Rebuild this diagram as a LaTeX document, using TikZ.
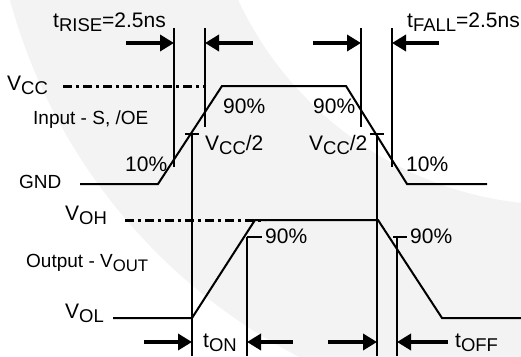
\documentclass[tikz,border=0pt]{standalone}
\usepackage{fontspec}
\setmainfont{Liberation Sans}
\usetikzlibrary{arrows.meta}
\definecolor{bggray}{RGB}{243,243,243}
\tikzstyle{sig}=[draw,line width=2pt]
\tikzstyle{rail}=[draw,line width=3pt,dash pattern=on 9pt off 4pt on 3pt off 4pt]
\tikzstyle{tick}=[draw,line width=2pt]
\tikzstyle{push}=[draw,line width=4.5pt,-{Triangle[length=14pt,width=16pt]}]
\tikzstyle{lbl}=[inner sep=0pt,anchor=base west,font=\fontsize{19}{21}\selectfont]
\tikzstyle{big}=[lbl,font=\fontsize{21}{24}\selectfont]
\newcommand{\lo}[1]{\raisebox{-.22em}{\scalebox{.88}{#1}}}

\begin{document}
\begin{tikzpicture}[x=1pt,y=-1pt]
\useasboundingbox (0,0) rectangle (521,356);
\begin{scope}
\clip (0,0) rectangle (521,356);
\fill[bggray,even odd rule] (560,-150) circle[radius=570pt] (560,-150) circle[radius=355pt];
\end{scope}
% input waveform
\path (80,184) coordinate (i0)
    ++ (78,0) coordinate (i1)
    ++ (64,-98) coordinate (i2)
    ++ (124,0) coordinate (i3)
    ++ (61,98) coordinate (i4)
    ++ (80,0) coordinate (i5);
\draw[sig] (i0) -- (i1) -- (i2) -- (i3) -- (i4) -- (i5);
\path (63,86) coordinate (c0) ++ (142,0) coordinate (c1);
\draw[rail] (c0) -- (c1);
% output waveform
\path (113,318) coordinate (o0)
    ++ (79,0) coordinate (o1)
    ++ (63,-98) coordinate (o2)
    ++ (123,0) coordinate (o3)
    ++ (64,98) coordinate (o4)
    ++ (79,0) coordinate (o5);
\draw[sig] (o0) -- (o1) -- (o2) -- (o3) -- (o4) -- (o5);
\path (125,220) coordinate (h0) ++ (140,0) coordinate (h1);
\draw[rail] (h0) -- (h1);
% rise and fall markers
\path (174,28) coordinate (r1t) ++ (0,15) coordinate (r1a) ++ (0,124) coordinate (r1b)
    (205,28) coordinate (r9t) ++ (0,15) coordinate (r9a) ++ (0,84) coordinate (r9b)
    (361,28) coordinate (f9t) ++ (0,15) coordinate (f9a) ++ (0,84) coordinate (f9b)
    (392,28) coordinate (f1t) ++ (0,15) coordinate (f1a) ++ (0,124) coordinate (f1b);
\draw[tick] (r1t) -- (r1b);
\draw[tick] (r9t) -- (r9b);
\draw[tick] (f9t) -- (f9b);
\draw[tick] (f1t) -- (f1b);
\path (126,43) coordinate (r1s) (253,43) coordinate (r9s)
    (313,43) coordinate (f9s) (439,43) coordinate (f1s);
\draw[push] (r1s) -- (r1a);
\draw[push] (r9s) -- (r9a);
\draw[push] (f9s) -- (f9a);
\draw[push] (f1s) -- (f1a);
% half supply marks
\path (192,134) coordinate (hr) ++ (-7,0) coordinate (hrl) ++ (14,0) coordinate (hrr)
    (192,356) coordinate (hrb)
    (377,134) coordinate (hf) ++ (-7,0) coordinate (hfl) ++ (14,0) coordinate (hfr)
    (377,356) coordinate (hfb);
\draw[tick] (hrl) -- (hrr);
\draw[tick] (hr) -- (hrb);
\draw[tick] (hfl) -- (hfr);
\draw[tick] (hf) -- (hfb);
% output 90% marks
\path (247,237) coordinate (qr) ++ (15,0) coordinate (qrr) (247,356) coordinate (qrb)
    (397,237) coordinate (qf) ++ (-4,0) coordinate (qfl) ++ (14,0) coordinate (qfr)
    (397,356) coordinate (qfb);
\draw[tick] (qr) -- (qrr);
\draw[tick] (qr) -- (qrb);
\draw[tick] (qfl) -- (qfr);
\draw[tick] (qf) -- (qfb);
\path (192,342) coordinate (na) ++ (-48,0) coordinate (ns)
    (247,342) coordinate (ma) ++ (46,0) coordinate (ms)
    (377,342) coordinate (pa) ++ (-49,0) coordinate (ps)
    (397,342) coordinate (qa) ++ (51,0) coordinate (qs);
\draw[push] (ns) -- (na);
\draw[push] (ms) -- (ma);
\draw[push] (ps) -- (pa);
\draw[push] (qs) -- (qa);
% labels
\node[big] (trise) at (53,27) {t\lo{RISE}=2.5ns};
\node[big] (tfall) at (407,27) {t\lo{FALL}=2.5ns};
\node[big] (vcc) at (7,90) {V\lo{CC}};
\node[lbl] (inp) at (33,124) {Input - S, /OE};
\node[lbl] (gnd) at (19,188) {GND};
\node[big] (r90) at (223,113) {90\%};
\node[big] (f90) at (313,113) {90\%};
\node[big] (rhalf) at (205,150) {V\lo{CC}/2};
\node[big] (fhalf) at (309,150) {V\lo{CC}/2};
\node[big] (r10) at (125,171) {10\%};
\node[big] (f10) at (406,171) {10\%};
\node[big] (voh) at (65,220) {V\lo{OH}};
\node[lbl] (outp) at (26,267) {Output - V\lo{OUT}};
\node[big] (vol) at (65,318) {V\lo{OL}};
\node[big] (q90r) at (265,243) {90\%};
\node[big] (q90f) at (410,243) {90\%};
\node[big] (ton) at (203,347) {t\lo{ON}};
\node[big] (toff) at (455,347) {t\lo{OFF}};
\end{tikzpicture}
\end{document}
